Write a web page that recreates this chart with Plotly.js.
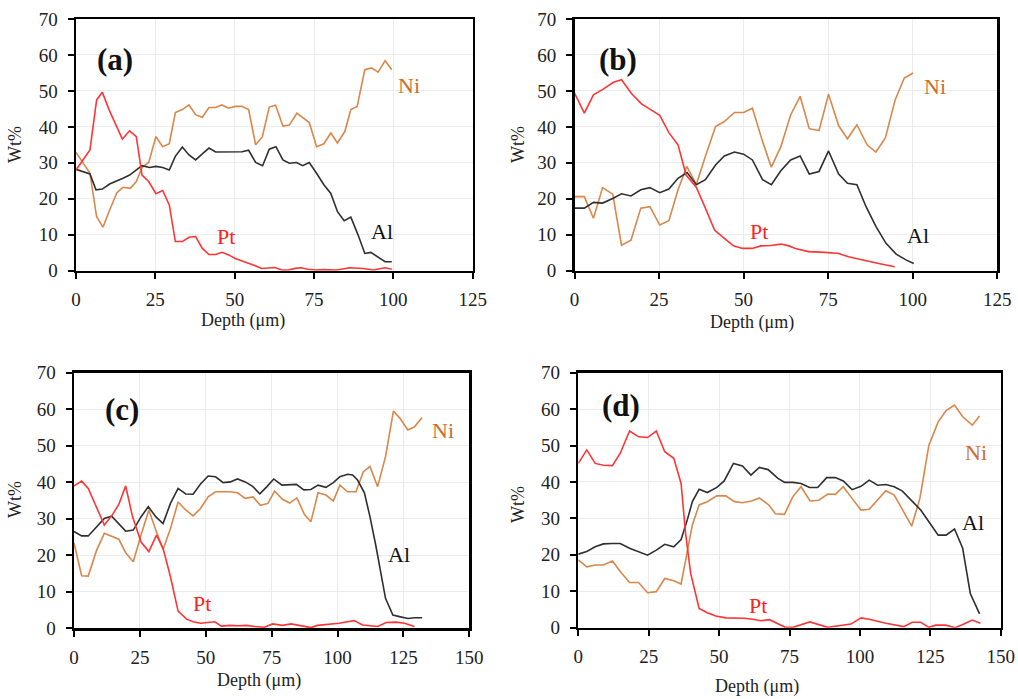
<!DOCTYPE html>
<html>
<head>
<meta charset="utf-8">
<script src="https://cdn.plot.ly/plotly-3.0.1.min.js"></script>
<style>html,body{margin:0;padding:0;background:#fff;}#chart{width:1018px;height:699px;}</style>
</head>
<body>
<div id="chart"></div>
<script>
// ---------- Panel (a) ----------
const depthA_Pt = [0,4.4,6.5,8.3,10.4,14.6,16.9,19.0,20.8,22.9,25.2,27.3,29.4,31.3,33.5,35.6,37.7,39.8,41.9,44.0,46.0,48.1,50.2,52.3,54.4,56.5,58.5,60.6,62.7,64.8,66.9,69.0,71.0,73.1,75.7,78.0,82.1,86.3,90.5,93.7,97.4,99.5];
const ptA = [28.0,33.6,47.5,49.6,44.8,36.6,38.9,37.3,26.6,24.8,21.4,22.3,18.3,8.1,8.1,9.3,9.5,6.2,4.5,4.5,5.1,4.4,3.4,2.8,2.0,1.4,0.6,0.65,0.9,0.2,0.2,0.65,0.8,0.4,0.2,0.3,0.2,0.8,0.6,0.2,0.8,0.4];
const depthA_Ni = [0,4.4,6.5,8.5,10.6,12.9,14.8,17.1,19.0,20.8,22.9,25.2,27.3,29.4,31.3,33.5,35.6,37.7,39.8,41.9,44.0,46.0,48.1,50.2,52.3,54.4,56.6,58.7,60.9,62.9,65.2,67.2,69.6,71.4,73.5,75.8,78.1,80.3,82.4,84.7,86.6,88.6,91.0,93.1,95.2,97.4,99.5];
const niA = [32.9,27.1,15.0,12.1,16.9,21.7,23.2,22.9,24.8,28.7,30.1,37.3,34.5,35.3,44.0,44.8,46.1,43.4,42.7,45.4,45.4,46.1,45.2,45.7,45.7,44.8,35.0,37.2,45.5,46.0,40.2,40.5,43.8,42.7,41.2,34.5,35.3,38.3,35.5,38.7,44.8,45.7,55.9,56.4,55.2,58.4,55.9];
const depthA_Al = [0,4.4,6.3,8.3,10.6,12.7,14.8,16.9,19.0,20.8,23.1,25.2,27.3,29.4,31.3,33.5,35.6,37.7,39.8,41.9,44.0,46.0,48.1,50.2,52.3,54.4,56.6,58.8,60.9,63.0,65.2,67.2,69.5,71.4,73.5,75.8,78.1,80.3,82.4,84.5,86.6,88.9,91.0,92.9,95.2,97.4,99.5];
const alA = [28.2,26.9,22.5,22.7,24.1,24.8,25.7,26.6,27.9,29.2,28.7,29.0,28.7,28.0,31.8,34.4,32.2,30.8,32.5,34.1,33.0,33.0,33.0,33.0,33.1,33.5,30.1,29.2,33.8,34.5,30.8,29.9,30.1,29.2,30.1,27.1,23.9,21.5,16.4,13.9,14.9,9.9,4.8,5.1,3.7,2.5,2.5];

// ---------- Panel (b) ----------
const depthB_Pt = [0,2.9,5.6,8.5,11.5,13.9,16.9,19.8,22.5,25.2,27.9,30.6,33.0,36.0,38.6,41.4,44.3,47.0,49.7,52.5,55.1,58.0,61.0,63.4,65.3,69.2,74.1,78.1,81.0,85.0,89.9,94.7];
const ptB = [49.4,43.8,48.9,50.5,52.4,53.1,49.2,46.4,44.8,43.2,38.4,35.0,26.6,23.2,17.6,11.3,9.0,6.9,6.2,6.2,6.9,7.0,7.4,6.9,6.2,5.3,5.1,4.8,3.9,3.0,2.0,1.1];
const depthB_Ni = [0,2.9,5.6,8.3,11.3,13.9,16.7,19.6,22.3,25.2,27.9,30.6,33.2,36.0,38.7,41.7,44.3,47.3,50.0,52.6,55.6,58.2,61.0,63.9,66.7,69.4,72.3,75.1,78.1,80.7,83.5,86.5,89.1,91.9,94.8,97.5,100.1];
const niB = [20.6,20.6,14.6,23.1,21.3,7.1,8.5,17.4,17.8,12.7,13.9,22.5,29.0,24.0,31.8,40.1,41.5,44.0,44.0,45.2,35.9,28.8,34.5,43.3,48.5,39.5,39.0,49.1,40.3,36.7,40.6,35.0,33.0,36.9,47.5,53.6,55.0];
const depthB_Al = [0,2.9,5.6,8.3,11.3,13.9,16.7,19.6,22.3,25.2,27.9,30.6,33.3,36.0,38.7,41.7,44.3,47.3,50.0,52.6,55.6,58.2,61.0,63.9,66.7,69.4,72.3,75.1,78.1,80.7,83.5,86.2,89.1,92.1,95.1,98.0,100.3];
const alB = [17.4,17.4,19.0,18.8,20.1,21.4,20.8,22.5,23.1,21.7,22.7,25.7,27.3,23.9,25.3,29.4,31.9,33.0,32.4,30.8,25.3,23.9,27.8,30.8,31.9,26.9,27.6,33.3,26.9,24.3,23.9,17.8,12.3,7.6,4.6,3.0,2.0];

// ---------- Panel (c) ----------
const depthC_Pt = [0,2.9,5.4,8.6,11.5,14.3,17.0,19.6,22.2,25.4,28.4,31.3,33.8,36.6,39.5,42.7,45.2,48.0,50.9,53.4,55.9,59.1,62.2,65.4,68.6,72.3,75.3,79.1,82.4,86.0,89.9,92.4,96.8,100.6,103.8,106.3,109.5,115.2,118.5,122.2,125.4,129.2];
const ptC = [39.0,40.3,38.3,33.3,28.3,30.8,33.9,39.0,30.6,23.7,21.0,25.5,21.9,14.1,4.7,2.5,1.8,1.4,1.6,1.8,0.6,0.8,0.7,0.8,0.5,0.3,1.2,0.8,1.2,0.8,0.2,0.8,1.1,1.4,1.8,2.1,0.9,0.5,1.6,1.7,1.4,0.5];
const depthC_Ni = [0,2.9,5.4,8.6,11.5,14.3,17.0,19.6,22.5,25.4,28.4,31.3,33.8,36.6,39.5,42.4,45.2,48.0,50.9,53.7,56.6,59.3,62.0,65.0,67.9,70.7,73.6,76.1,79.0,81.8,84.6,87.4,89.9,92.6,95.6,98.4,100.9,103.8,107.0,109.8,112.3,115.2,118.2,121.2,123.7,126.7,129.2,132.1];
const niC = [23.4,14.4,14.3,21.4,26.0,25.1,24.4,20.7,18.2,25.5,32.4,26.4,21.6,27.3,34.6,32.4,30.8,32.8,36.0,37.4,37.4,37.4,37.1,35.6,36.0,33.7,34.2,37.6,35.4,34.3,35.7,31.2,29.2,37.1,36.5,34.9,39.2,37.4,37.4,42.9,44.3,38.8,47.0,59.5,57.5,54.3,55.2,57.7];
const depthC_Al = [0,2.9,5.4,8.6,11.5,14.3,17.0,19.6,22.5,25.4,28.2,31.1,33.8,36.6,39.5,42.4,45.2,48.0,50.9,53.7,56.6,59.3,62.0,65.0,67.9,70.5,73.2,75.8,78.9,81.6,84.4,87.2,89.9,92.6,95.6,98.4,100.9,103.8,105.7,107.6,110.2,112.3,114.6,118.2,121.0,123.5,126.7,129.2,132.1];
const alC = [26.5,25.3,25.3,27.8,30.1,30.7,28.7,26.6,26.9,30.5,33.3,30.5,28.7,34.2,38.3,36.8,36.7,39.5,41.7,41.5,39.9,40.1,40.9,40.1,38.8,36.8,38.8,40.9,39.2,39.2,39.4,37.9,38.0,39.2,38.6,39.9,41.5,42.2,42.0,40.6,37.1,30.6,22.4,8.2,3.6,3.2,2.7,2.9,2.9];

// ---------- Panel (d) ----------
const depthD_Pt = [0,3.0,6.0,8.9,12.1,14.9,18.2,21.4,24.6,27.7,30.7,33.9,36.5,38.1,39.9,42.9,45.8,48.8,52.4,56.0,58.9,61.9,64.9,67.9,70.8,73.5,76.3,82.2,88.6,94.3,96.8,100.4,103.3,109.2,115.6,118.6,121.6,124.5,126.9,130.4,133.9,136.9,139.9,142.8];
const ptD = [45.1,48.8,45.1,44.6,44.5,47.9,54.0,52.4,52.2,54.0,48.3,46.5,39.6,25.9,14.9,5.3,4.1,3.2,2.7,2.7,2.6,2.3,1.9,2.2,1.0,0.1,0.1,1.6,0.1,0.6,1.0,2.7,2.3,1.2,0.3,1.5,1.5,0.1,0.7,0.7,0.0,1.0,2.1,1.2];
const depthD_Ni = [0,3.0,6.0,8.9,12.1,14.9,18.2,21.4,24.6,27.7,30.7,33.9,36.5,38.7,40.5,42.9,45.8,49.2,52.4,55.4,58.3,61.5,64.3,67.5,70.0,73.2,76.2,79.1,82.3,85.4,88.6,91.3,94.1,97.2,100.4,103.3,106.3,109.2,112.2,115.1,118.4,121.3,124.5,127.8,130.6,133.6,136.5,139.9,142.5];
const niD = [18.6,16.7,17.2,17.2,18.3,15.4,12.4,12.4,9.6,9.9,13.5,12.9,12.0,21.3,28.2,33.7,34.6,36.2,36.2,34.6,34.3,34.8,35.6,33.8,31.3,31.1,36.0,38.7,34.8,35.0,36.7,36.6,38.7,35.5,32.3,32.5,35.0,37.6,36.4,32.3,27.9,35.5,50.1,56.5,59.6,61.1,57.9,55.6,58.1];
const depthD_Al = [0,3.0,6.0,8.9,12.1,14.9,18.2,21.4,24.6,27.7,30.7,33.9,36.5,38.7,40.5,42.9,45.8,49.2,51.8,55.1,58.3,61.3,64.3,67.4,70.9,73.3,76.2,79.1,82.1,85.0,88.2,91.3,94.1,97.2,100.4,103.3,106.3,109.2,112.2,115.1,118.4,121.6,124.5,127.8,130.6,133.6,136.5,139.2,142.5];
const alD = [20.2,20.9,22.2,23.0,23.1,23.1,21.8,20.9,19.9,21.3,22.9,22.2,24.2,29.6,34.6,38.0,37.1,38.5,40.3,45.1,44.4,41.9,44.0,43.4,41.0,39.9,39.9,39.6,38.5,38.5,41.2,41.2,40.3,37.9,38.8,40.5,39.1,39.3,38.7,37.5,35.0,32.3,29.1,25.4,25.4,27.1,21.8,9.4,3.8];

// ---------- Text ----------
const panelLabels = ["(a)", "(b)", "(c)", "(d)"];
const seriesNames = ["Pt", "Ni", "Al"];
const xTitle = "Depth (\u03bcm)";
const yTitle = "Wt%";
const xMax = [125, 125, 150, 150];

// ---------- Styling ----------
const FONT = "Liberation Serif, Times New Roman, serif";
const colPt = "#ff3535", colNi = "#d9874a", colAl = "#2f2f2f";
const txtPt = "#ff2020", txtNi = "#cf6d2d", txtAl = "#111111";
const W = 1018, H = 699;
const px = x => x / W, py = y => 1 - y / H;

const panels = [
  {sfx: "",  x: [76, 472.7],  y: [19, 270.7],   pt:[depthA_Pt,ptA], ni:[depthA_Ni,niA], al:[depthA_Al,alA]},
  {sfx: "2", x: [574.5, 997.3], y: [19, 270.7], pt:[depthB_Pt,ptB], ni:[depthB_Ni,niB], al:[depthB_Al,alB]},
  {sfx: "3", x: [74, 469.3],  y: [372.7, 628.3], pt:[depthC_Pt,ptC], ni:[depthC_Ni,niC], al:[depthC_Al,alC]},
  {sfx: "4", x: [578.3, 1000.7], y: [372.7, 627.7], pt:[depthD_Pt,ptD], ni:[depthD_Ni,niD], al:[depthD_Al,alD]}
];

// label positions (data coords) for each panel: [panelLabel, Ni, Al, Pt]
const labelPos = [
  {p:[12.3,58.6], ni:[105,51.6], al:[96.5,10.8], pt:[47.3,9.4]},
  {p:[12.9,58.6], ni:[106.6,51.1], al:[101.6,9.9], pt:[54.6,10.8]},
  {p:[18.2,59.8], ni:[140,54.3], al:[123.3,20.1], pt:[48.6,6.9]},
  {p:[15.2,60.9], ni:[141.2,48.2], al:[140.2,29.0], pt:[63.8,6.2]}
];
// axis title positions in px: [xTitle cx, cy, yTitle cx, cy]
const titlePos = [[243,320,15,145],[752,322,518,145],[259,680,15,500],[757,686,518,505]];

const traces = [];
const layout = {
  width: W, height: H,
  margin: {l:0, r:0, t:0, b:0},
  paper_bgcolor: "#fff", plot_bgcolor: "#fff",
  showlegend: false,
  font: {family: FONT, color: "#222", size: 19},
  annotations: []
};

panels.forEach((p, i) => {
  const xa = "x" + p.sfx, ya = "y" + p.sfx;
  const mk = (d, name, col) => ({x: d[0], y: d[1], type: "scatter", mode: "lines", name: name,
    xaxis: xa, yaxis: ya, line: {color: col, width: 1.6}, hoverinfo: "x+y+name"});
  traces.push(mk(p.ni, seriesNames[1], colNi));
  traces.push(mk(p.al, seriesNames[2], colAl));
  traces.push(mk(p.pt, seriesNames[0], colPt));

  const common = {
    showline: true, linecolor: "#000", linewidth: 2.4, mirror: true,
    ticks: "outside", ticklen: 6, tickwidth: 2, tickcolor: "#000",
    showgrid: true, gridcolor: "#ebebeb", gridwidth: 1,
    zeroline: false, tickfont: {family: FONT, size: 19, color: "#222"}
  };
  layout["xaxis" + p.sfx] = Object.assign({}, common, {
    domain: [px(p.x[0]), px(p.x[1])], range: [0, xMax[i]], dtick: 25, tick0: 0,
    anchor: ya, ticklabelstandoff: 4
  });
  layout["yaxis" + p.sfx] = Object.assign({}, common, {
    domain: [py(p.y[1]), py(p.y[0])], range: [0, 70], dtick: 10, tick0: 0,
    anchor: xa, ticklabelstandoff: 6
  });

  const lp = labelPos[i];
  const ann = (pos, text, color, size, bold) => ({
    xref: xa, yref: ya, x: pos[0], y: pos[1], text: bold ? "<b>" + text + "</b>" : text,
    showarrow: false, xanchor: "center", yanchor: "middle",
    font: {family: FONT, size: size, color: color}
  });
  layout.annotations.push(ann(lp.p, panelLabels[i], "#111", 31, true));
  layout.annotations.push(ann(lp.ni, seriesNames[1], txtNi, 22));
  layout.annotations.push(ann(lp.al, seriesNames[2], txtAl, 22));
  layout.annotations.push(ann(lp.pt, seriesNames[0], txtPt, 22));

  const t = titlePos[i];
  layout.annotations.push({xref: "paper", yref: "paper", x: px(t[0]), y: py(t[1]), text: xTitle,
    showarrow: false, xanchor: "center", yanchor: "middle", font: {family: FONT, size: 18, color: "#222"}});
  layout.annotations.push({xref: "paper", yref: "paper", x: px(t[2]), y: py(t[3]), text: yTitle,
    showarrow: false, xanchor: "center", yanchor: "middle", textangle: -90, font: {family: FONT, size: 18, color: "#222"}});
});

Plotly.newPlot("chart", traces, layout, {displayModeBar: false, staticPlot: true});
</script>
</body>
</html>
